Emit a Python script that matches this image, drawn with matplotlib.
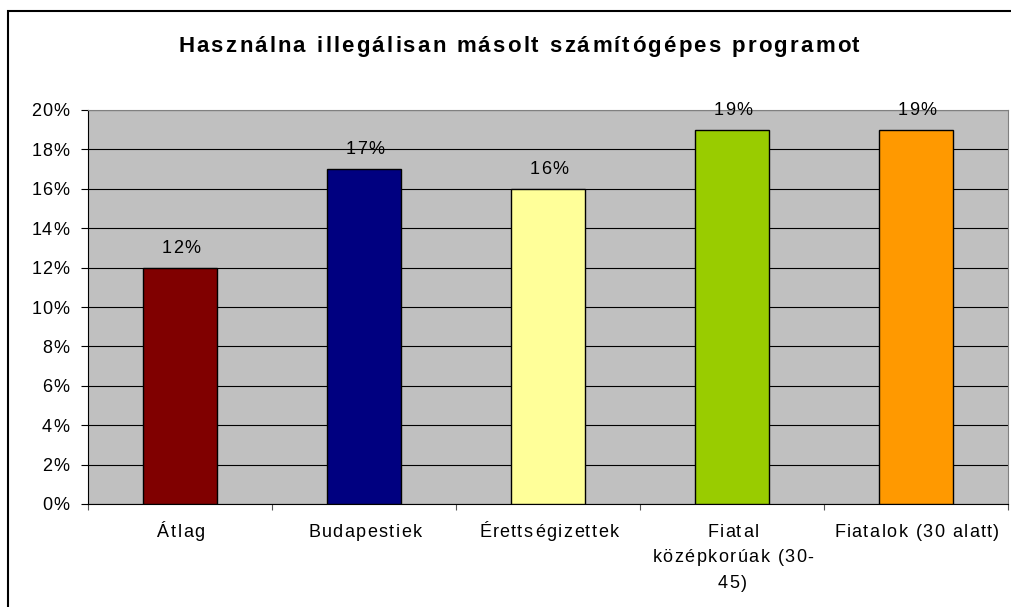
import numpy as np
import matplotlib.pyplot as plt
from matplotlib.patches import Rectangle
from matplotlib.font_manager import FontProperties, findfont
from matplotlib.transforms import IdentityTransform
from matplotlib.ft2font import FT2Font

try:
    from matplotlib.ft2font import LoadFlags
    NO_HINT = LoadFlags.NO_HINTING
except ImportError:
    from matplotlib.ft2font import LOAD_NO_HINTING as NO_HINT

categories = ["Átlag", "Budapestiek", "Érettségizettek",
              "Fiatal\nközépkorúak (30-\n45)", "Fiatalok (30 alatt)"]
values = [12, 17, 16, 19, 19]
colors = ["#800000", "#000080", "#FFFF99", "#99CC00", "#FF9900"]
yticks = [0, 2, 4, 6, 8, 10, 12, 14, 16, 18, 20]
title = "Használna illegálisan másolt számítógépes programot"

FAMILY = ["Liberation Sans", "DejaVu Sans"]
plt.rcParams["font.family"] = FAMILY

W, H = 1011, 607
DPI = 100
fig = plt.figure(figsize=(W / DPI, H / DPI), dpi=DPI)


def glyph_metrics(s, prop):
    # advance and left bearing of each character, in pixels
    font = FT2Font(findfont(prop))
    font.set_size(prop.get_size_in_points(), DPI)
    adv, bear = [], []
    for c in s:
        g = font.load_char(ord(c), flags=NO_HINT)
        adv.append(g.linearHoriAdvance / 65536)
        bear.append(g.horiBearingX / 64)
    return adv, bear


def spaced(x, y, s, size, spacing=1.5, weight="normal", ha="center", target=None):
    # x, y in display pixels, y is the baseline; draws s with extra letter spacing
    prop = FontProperties(family=FAMILY[0], size=size, weight=weight)
    adv, bear = glyph_metrics(s, prop)
    n = len(s)
    natural = sum(adv)
    if target is not None and n > 1:
        spacing = (target - natural) / (n - 1)
    total = natural + spacing * (n - 1)
    if ha == "center":
        start = x - total / 2
    elif ha == "right":
        start = x - total
    else:
        start = x
    pen = start
    for c, a, b in zip(s, adv, bear):
        if c != " ":
            fig.text(pen + b, y, c, fontproperties=prop, transform=IdentityTransform(),
                     ha="left", va="baseline")
        pen += a + spacing


ax = fig.add_axes([88 / W, 1 - 504 / H, (1008 - 88) / W, (504 - 110) / H])

x = np.arange(len(categories))
ax.bar(x, values, width=0.4, color=colors, edgecolor="black", linewidth=1.0, zorder=3)

ax.set_xlim(-0.5, len(categories) - 0.5)
ax.set_ylim(0, 20)
ax.set_facecolor("#C0C0C0")
ax.set_yticks(yticks)
ax.set_yticklabels([])
ax.yaxis.grid(True, color="black", linewidth=0.8, zorder=0)
ax.set_axisbelow(True)
ax.set_xticks(np.arange(-0.5, len(categories)))
ax.set_xticklabels([])
ax.tick_params(axis="x", length=4.5, color="#555555", direction="out")
ax.tick_params(axis="y", length=5, direction="out")

ax.spines["top"].set_color("#808080")
ax.spines["right"].set_color("#808080")
ax.spines["left"].set_color("black")
ax.spines["bottom"].set_color("black")

fs = 13
# y tick labels
for t in yticks:
    _, yd = ax.transData.transform((0, t))
    spaced(69, yd - 6.5, f"{t}%", fs, ha="right")

# value labels above bars
for xi, v in zip(x, values):
    xd, yd = ax.transData.transform((xi, v))
    spaced(xd, yd + 15, f"{v}%", fs)

# category labels
for xi, lab in zip(x, categories):
    xd, yd = ax.transData.transform((xi, 0))
    for j, line in enumerate(lab.split("\n")):
        spaced(xd, yd - 33 - j * 25.5, line, fs)

spaced(518, H - 52, title, 16, weight="bold", target=682)

fig.patches.append(Rectangle((8 / W, -0.2), 1.2, 1.2 - 11 / H, transform=fig.transFigure,
                             fill=False, edgecolor="black", linewidth=1.5))

fig.savefig("out.png", dpi=DPI, facecolor="white")
